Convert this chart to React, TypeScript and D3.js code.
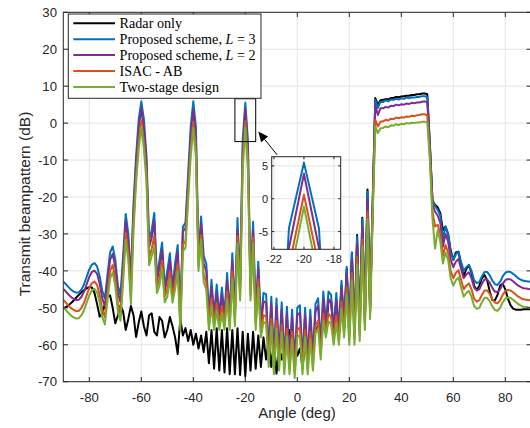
import React from "react";
import * as d3 from "d3";

// Sampling grid: -90..90 deg, 1 deg step
const angles: number[] = d3.range(-90, 91, 1);

const radarOnly: number[] = [
  -50.1, -49.8, -49.3, -48.7, -48.0, -47.2, -46.5, -45.8, -45.2, -44.7,
  -44.4, -44.5, -46.0, -49.0, -52.4, -51.5, -49.0, -47.0, -46.6, -50.0,
  -54.2, -52.0, -49.3, -51.0, -56.0, -53.0, -49.5, -52.0, -57.9, -54.0,
  -51.0, -55.0, -57.5, -52.0, -51.5, -56.5, -57.5, -52.5, -53.5, -58.0,
  -56.0, -52.5, -55.0, -58.0, -62.5, -53.0, -57.5, -55.5, -59.0, -56.0,
  -60.0, -57.0, -61.0, -57.5, -62.0, -56.5, -65.0, -56.0, -66.5, -55.5,
  -67.0, -56.0, -67.5, -55.5, -68.0, -56.0, -68.0, -55.5, -68.2, -56.5,
  -68.5, -57.0, -67.0, -56.5, -66.5, -57.5, -66.0, -58.0, -64.0, -58.5,
  -66.0, -59.0, -67.8, -61.0, -64.0, -60.0, -58.0, -56.0, -62.0, -59.0,
  -63.0, -61.0, -66.0, -60.0, -64.0, -58.0, -62.0, -56.0, -55.0, -58.0,
  -51.0, -57.0, -48.0, -48.5, -56.0, -48.0, -57.0, -44.0, -56.0, -39.5,
  -57.0, -35.0, -57.0, -30.3, -56.0, -25.6, -54.0, -18.0, -51.0, -21.0,
  6.8, 5.0, 6.2, 6.3, 6.5, 6.4, 6.8, 6.8, 7.1, 7.0,
  7.2, 7.3, 7.4, 7.4, 7.6, 7.6, 7.8, 7.8, 8.0, 8.0,
  7.8, -6.0, -21.0, -22.2, -22.8, -24.4, -29.0, -28.0, -30.0, -34.5,
  -37.0, -35.0, -34.8, -38.5, -41.6, -39.5, -38.4, -40.5, -44.0, -45.2,
  -44.0, -42.0, -41.1, -42.5, -45.5, -47.9, -48.0, -46.5, -44.0, -43.5,
  -45.0, -47.5, -49.3, -50.2, -50.5, -50.5, -50.5, -50.4, -50.4, -50.4,
  -50.4,
];

const proposedL3: number[] = [
  -42.9, -43.6, -44.4, -45.1, -45.6, -45.9, -45.8, -45.0, -43.6, -41.6,
  -39.6, -38.3, -37.9, -38.8, -41.5, -45.5, -47.5, -41.0, -35.0, -33.4,
  -37.0, -44.0, -46.5, -36.0, -24.6, -30.0, -42.0, -22.0, -9.0, 1.0,
  5.9, 1.0, -9.0, -31.5, -29.0, -24.3, -42.0, -37.0, -32.3, -44.5,
  -40.0, -35.2, -44.6, -38.0, -33.0, -52.0, -28.0, -27.0, -14.0, -1.0,
  5.9, -1.0, -36.0, -25.3, -36.0, -38.0, -52.0, -42.4, -52.0, -43.7,
  -52.0, -44.5, -52.0, -40.6, -52.0, -35.2, -51.0, -25.7, -44.0, -4.5,
  5.5, -4.5, -44.0, -26.7, -52.0, -37.5, -54.0, -46.0, -46.3, -62.0,
  -47.0, -64.0, -47.5, -63.0, -48.5, -64.0, -49.7, -64.0, -50.5, -65.0,
  -50.0, -49.3, -64.0, -50.0, -64.0, -50.5, -63.0, -49.0, -47.4, -60.0,
  -45.6, -54.0, -45.6, -46.5, -56.0, -46.0, -56.0, -42.7, -54.0, -38.9,
  -56.0, -35.1, -56.0, -30.7, -55.0, -26.0, -52.0, -18.5, -49.0, -22.0,
  6.3, 4.1, 5.8, 5.7, 6.2, 5.9, 6.4, 6.3, 6.6, 6.4,
  6.7, 6.6, 6.9, 6.7, 7.0, 6.9, 7.1, 7.1, 7.3, 7.3,
  7.0, -6.0, -21.0, -22.5, -23.5, -25.0, -31.5, -28.0, -30.0, -35.0,
  -37.0, -35.5, -34.8, -37.5, -40.0, -39.0, -38.4, -40.0, -42.5, -43.3,
  -43.0, -41.5, -40.3, -40.3, -41.2, -42.6, -43.6, -43.8, -43.0, -41.5,
  -40.5, -40.2, -40.3, -40.8, -41.4, -42.0, -42.4, -42.7, -42.8, -42.9,
  -43.0,
];

const proposedL2: number[] = [
  -44.9, -45.6, -46.4, -47.1, -47.6, -47.9, -47.8, -47.0, -45.6, -43.6,
  -41.6, -40.3, -39.9, -40.8, -43.5, -47.5, -49.5, -43.0, -37.0, -35.4,
  -39.0, -46.0, -48.5, -38.0, -26.6, -32.0, -44.0, -24.0, -11.0, -1.5,
  4.0, -1.5, -11.0, -33.5, -31.0, -26.5, -43.0, -39.0, -34.3, -45.5,
  -42.0, -37.2, -45.6, -40.0, -35.0, -53.0, -29.4, -28.4, -16.0, -4.0,
  3.6, -4.0, -37.0, -27.3, -38.0, -40.0, -53.0, -44.4, -53.0, -45.7,
  -53.0, -46.5, -53.0, -42.6, -53.0, -37.2, -52.0, -28.9, -45.0, -7.5,
  3.8, -7.5, -45.0, -29.0, -53.0, -39.5, -55.0, -48.3, -48.5, -63.0,
  -49.0, -65.0, -49.5, -64.0, -50.5, -65.0, -51.7, -65.0, -52.5, -66.0,
  -52.0, -51.3, -65.0, -52.0, -65.0, -52.5, -64.0, -51.0, -49.4, -61.0,
  -47.6, -55.0, -47.6, -48.5, -57.0, -48.0, -57.0, -44.7, -55.0, -40.9,
  -57.0, -37.1, -57.0, -32.7, -56.0, -28.0, -53.0, -20.5, -50.0, -23.0,
  5.0, 2.2, 4.0, 4.0, 4.4, 4.2, 4.7, 4.6, 5.0, 4.8,
  5.1, 5.0, 5.3, 5.2, 5.5, 5.4, 5.6, 5.6, 5.8, 5.9,
  5.6, -7.0, -22.0, -24.0, -25.0, -27.0, -33.5, -30.0, -32.0, -37.0,
  -39.0, -37.5, -36.8, -39.5, -42.0, -41.0, -40.4, -42.0, -44.5, -45.3,
  -45.0, -43.5, -42.3, -42.3, -43.2, -44.6, -45.6, -45.8, -45.0, -43.5,
  -42.5, -42.2, -42.3, -42.8, -43.4, -44.0, -44.4, -44.7, -44.8, -44.9,
  -45.0,
];

const isacAB: number[] = [
  -47.9, -48.6, -49.4, -50.1, -50.6, -50.9, -50.8, -50.0, -48.6, -46.6,
  -44.6, -43.3, -42.9, -43.8, -46.5, -50.5, -52.5, -46.0, -40.0, -38.4,
  -42.0, -49.0, -51.5, -41.0, -29.6, -35.0, -47.0, -27.0, -14.0, -5.0,
  0.7, -5.0, -14.0, -36.5, -34.0, -30.5, -44.5, -42.0, -37.3, -47.0,
  -45.0, -40.2, -47.1, -43.0, -38.0, -54.5, -32.9, -31.9, -19.0, -7.0,
  0.4, -7.0, -38.5, -30.3, -41.0, -43.0, -54.5, -47.4, -54.5, -48.7,
  -54.5, -49.5, -54.5, -45.6, -54.5, -40.2, -53.5, -30.7, -46.5, -10.3,
  0.6, -10.3, -46.5, -31.0, -54.5, -42.5, -56.5, -52.0, -52.3, -64.5,
  -53.0, -66.5, -53.5, -65.5, -54.5, -66.5, -55.7, -66.5, -56.5, -67.5,
  -56.0, -55.3, -66.5, -56.0, -66.5, -56.5, -65.5, -55.0, -53.4, -62.5,
  -51.6, -56.5, -51.6, -52.5, -58.5, -52.0, -58.5, -48.2, -56.5, -44.4,
  -58.5, -40.6, -58.5, -36.2, -57.5, -31.5, -54.5, -24.0, -51.5, -24.0,
  0.9, -0.9, 0.4, 0.5, 0.9, 0.7, 1.2, 1.1, 1.5, 1.3,
  1.6, 1.5, 1.8, 1.7, 2.0, 1.9, 2.1, 2.2, 2.4, 2.4,
  2.1, -9.0, -24.0, -28.0, -27.5, -30.0, -36.0, -33.0, -35.0, -40.0,
  -42.0, -40.5, -39.8, -42.5, -45.0, -44.0, -43.4, -45.0, -47.5, -48.3,
  -48.0, -46.5, -45.3, -45.3, -46.2, -47.6, -48.6, -48.8, -48.0, -46.5,
  -45.5, -45.2, -45.3, -45.8, -46.4, -47.0, -47.4, -47.7, -47.8, -47.9,
  -48.0,
];

const twoStage: number[] = [
  -49.9, -50.6, -51.4, -52.1, -52.6, -52.9, -52.8, -52.0, -50.6, -48.6,
  -46.6, -45.3, -44.9, -45.8, -48.5, -52.5, -54.5, -48.0, -42.0, -40.4,
  -44.0, -51.0, -53.5, -43.0, -31.6, -37.0, -49.0, -29.0, -16.0, -7.0,
  -0.9, -7.0, -16.0, -38.5, -36.0, -33.4, -46.0, -44.0, -39.3, -48.5,
  -47.0, -42.2, -48.6, -45.0, -40.0, -56.0, -34.7, -33.7, -21.0, -9.0,
  -1.4, -9.0, -40.0, -31.5, -43.0, -45.0, -56.0, -49.4, -56.0, -50.7,
  -56.0, -51.5, -56.0, -47.6, -56.0, -42.2, -55.0, -32.5, -48.0, -12.6,
  -1.2, -12.6, -48.0, -32.5, -56.0, -44.5, -58.0, -53.8, -54.3, -66.0,
  -55.0, -68.0, -55.5, -67.0, -56.5, -68.0, -57.7, -68.0, -58.5, -69.0,
  -58.0, -57.3, -68.0, -58.0, -68.0, -58.5, -67.0, -57.0, -55.4, -64.0,
  -53.6, -58.0, -53.6, -54.5, -60.0, -54.0, -60.0, -50.2, -58.0, -46.4,
  -60.0, -42.6, -60.0, -38.2, -59.0, -33.5, -56.0, -26.0, -53.0, -25.0,
  -0.9, -2.7, -1.4, -1.3, -0.9, -1.1, -0.6, -0.7, -0.3, -0.5,
  -0.2, -0.3, 0.0, -0.1, 0.1, 0.0, 0.2, 0.2, 0.4, 0.4,
  0.2, -10.0, -26.0, -34.0, -29.0, -32.0, -38.0, -35.0, -37.0, -42.0,
  -44.0, -42.5, -41.8, -44.5, -47.0, -46.0, -45.4, -47.0, -49.5, -50.3,
  -50.0, -48.5, -47.3, -47.3, -48.2, -49.6, -50.6, -50.8, -50.0, -48.5,
  -47.5, -47.2, -47.3, -47.8, -48.4, -49.0, -49.4, -49.7, -49.8, -49.9,
  -50.0,
];

const seriesNames: string[] = [
  "Radar only",
  "Proposed scheme, L = 3",
  "Proposed scheme, L = 2",
  "ISAC - AB",
  "Two-stage design",
];
const seriesColors: string[] = ["#000000", "#0072BD", "#7E2F8E", "#D95319", "#77AC30"];
const seriesData: number[][] = [radarOnly, proposedL3, proposedL2, isacAB, twoStage];

const xTicks: number[] = [-80, -60, -40, -20, 0, 20, 40, 60, 80];
const yTicks: number[] = [-70, -60, -50, -40, -30, -20, -10, 0, 10, 20, 30];
const insetXTicks: number[] = [-22, -20, -18];
const insetYTicks: number[] = [-5, 0, 5];

const W = 530;
const H = 428;
const SANS = "'Liberation Sans', Arial, Helvetica, sans-serif";
const SERIF = "'Liberation Serif', 'Times New Roman', serif";
const AX = "#262626";
const GRID = "#e3e3e3";

export default function App() {
  const x = d3.scaleLinear().domain([-90, 90]).range([63.3, 531.3]);
  const y = d3.scaleLinear().domain([-70, 30]).range([381.7, 12.3]);
  const [x0, x1] = x.range();
  const [y0, y1] = y.range();

  const xi = d3.scaleLinear().domain([-22.15, -17.55]).range([271.7, 340.7]);
  const yi = d3.scaleLinear().domain([-7.7, 6.4]).range([249.3, 156.7]);

  const mainLine = d3
    .line<number>()
    .x((_, i) => x(angles[i]))
    .y((d) => y(d));
  const insetLine = d3
    .line<number>()
    .x((_, i) => xi(angles[i]))
    .y((d) => yi(d));

  const tick = 4.7;
  const itick = 2.5;

  // zoom rectangle in data space
  const zx0 = x(-24), zx1 = x(-16), zy0 = y(6.6), zy1 = y(-5);

  // arrow from inset corner towards the zoom box
  const tail = [xi.range()[0] + 5.6, yi.range()[1] - 1.7];
  const tip = [zx1 + 2.6, zy1 - 10];
  const dx = tip[0] - tail[0], dy = tip[1] - tail[1];
  const len = Math.hypot(dx, dy);
  const ux = dx / len, uy = dy / len;
  const hl = 10, hw = 4.5;
  const bx = tip[0] - ux * hl, by = tip[1] - uy * hl;
  const head = `${tip[0]},${tip[1]} ${bx - uy * hw},${by + ux * hw} ${bx + uy * hw},${by - ux * hw}`;

  const legendX0 = 68.3, legendY0 = 14, legendW = 192.7, legendH = 84.3;
  const rowY = [23.3, 39.3, 55.1, 70.9, 87.0];

  return (
    <svg
      width={W}
      height={H}
      style={{ position: "absolute", left: 0, top: 0, background: "#fff" }}
      fontFamily={SANS}
    >
      <defs>
        <clipPath id="plotClip">
          <rect x={x0} y={y1} width={x1 - x0} height={y0 - y1} />
        </clipPath>
        <clipPath id="insetClip">
          <rect x={xi.range()[0]} y={yi.range()[1]} width={xi.range()[1] - xi.range()[0]} height={yi.range()[0] - yi.range()[1]} />
        </clipPath>
      </defs>
      <rect x={0} y={0} width={W} height={H} fill="#fff" />

      {/* grid */}
      <g stroke={GRID} strokeWidth={1}>
        {xTicks.map((t) => (
          <line key={"gx" + t} x1={x(t)} x2={x(t)} y1={y1} y2={y0} />
        ))}
        {yTicks.map((t) => (
          <line key={"gy" + t} x1={x0} x2={x1} y1={y(t)} y2={y(t)} />
        ))}
      </g>

      {/* curves */}
      <g clipPath="url(#plotClip)" fill="none" strokeWidth={2} strokeLinejoin="round">
        {seriesData.map((s, k) => (
          <path key={"s" + k} d={mainLine(s) || ""} stroke={seriesColors[k]} />
        ))}
      </g>

      {/* axes box and ticks */}
      <g stroke={AX} strokeWidth={1} fill="none">
        <rect x={x0} y={y1} width={x1 - x0} height={y0 - y1} />
        {xTicks.map((t) => (
          <g key={"tx" + t}>
            <line x1={x(t)} x2={x(t)} y1={y0} y2={y0 - tick} />
            <line x1={x(t)} x2={x(t)} y1={y1} y2={y1 + tick} />
          </g>
        ))}
        {yTicks.map((t) => (
          <g key={"ty" + t}>
            <line x1={x0} x2={x0 + tick} y1={y(t)} y2={y(t)} />
            <line x1={x1} x2={x1 - tick} y1={y(t)} y2={y(t)} />
          </g>
        ))}
      </g>
      <g fill={AX} fontSize={13.2}>
        {xTicks.map((t) => (
          <text key={"lx" + t} x={x(t)} y={401.8} textAnchor="middle">
            {String(t)}
          </text>
        ))}
        {yTicks.map((t) => (
          <text key={"ly" + t} x={57} y={y(t)} dy="0.36em" textAnchor="end">
            {String(t)}
          </text>
        ))}
      </g>
      <text x={297} y={418.2} textAnchor="middle" fontSize={15} fill={AX}>
        Angle (deg)
      </text>
      <text
        transform={`translate(29.5, 204) rotate(-90)`}
        textAnchor="middle"
        fontSize={15.5}
        fill={AX}
      >
        Transmit beampattern (dB)
      </text>

      {/* zoom box and arrow */}
      <rect x={zx0} y={zy0} width={zx1 - zx0} height={zy1 - zy0} fill="none" stroke="#000" strokeWidth={1} />
      <line x1={tail[0]} y1={tail[1]} x2={bx} y2={by} stroke="#000" strokeWidth={1} />
      <polygon points={head} fill="#000" />

      {/* inset */}
      <rect x={xi.range()[0]} y={yi.range()[1]} width={xi.range()[1] - xi.range()[0]} height={yi.range()[0] - yi.range()[1]} fill="#fff" />
      <g stroke={GRID} strokeWidth={1}>
        {insetXTicks.map((t) => (
          <line key={"igx" + t} x1={xi(t)} x2={xi(t)} y1={yi.range()[1]} y2={yi.range()[0]} />
        ))}
        {insetYTicks.map((t) => (
          <line key={"igy" + t} x1={xi.range()[0]} x2={xi.range()[1]} y1={yi(t)} y2={yi(t)} />
        ))}
      </g>
      <g clipPath="url(#insetClip)" fill="none" strokeWidth={2} strokeLinejoin="round">
        {seriesData.map((s, k) => (
          <path key={"is" + k} d={insetLine(s) || ""} stroke={seriesColors[k]} />
        ))}
      </g>
      <g stroke={AX} strokeWidth={1} fill="none">
        <rect x={xi.range()[0]} y={yi.range()[1]} width={xi.range()[1] - xi.range()[0]} height={yi.range()[0] - yi.range()[1]} />
        {insetXTicks.map((t) => (
          <g key={"itx" + t}>
            <line x1={xi(t)} x2={xi(t)} y1={yi.range()[0]} y2={yi.range()[0] - itick} />
            <line x1={xi(t)} x2={xi(t)} y1={yi.range()[1]} y2={yi.range()[1] + itick} />
          </g>
        ))}
        {insetYTicks.map((t) => (
          <g key={"ity" + t}>
            <line x1={xi.range()[0]} x2={xi.range()[0] + itick} y1={yi(t)} y2={yi(t)} />
            <line x1={xi.range()[1]} x2={xi.range()[1] - itick} y1={yi(t)} y2={yi(t)} />
          </g>
        ))}
      </g>
      <g fill={AX} fontSize={11}>
        {insetXTicks.map((t) => (
          <text key={"ilx" + t} x={xi(t)} y={yi.range()[0] + 14} textAnchor="middle">
            {String(t)}
          </text>
        ))}
        {insetYTicks.map((t) => (
          <text key={"ily" + t} x={xi.range()[0] - 3.5} y={yi(t)} dy="0.36em" textAnchor="end">
            {String(t)}
          </text>
        ))}
      </g>

      {/* legend */}
      <rect x={legendX0} y={legendY0} width={legendW} height={legendH} fill="#fff" stroke={AX} strokeWidth={1} />
      {seriesNames.map((name, k) => {
        const ry = rowY[k];
        const m = name.match(/^(.*), L = (\d)$/);
        return (
          <g key={"lg" + k}>
            <line x1={73.3} x2={115} y1={ry} y2={ry} stroke={seriesColors[k]} strokeWidth={2} />
            <text x={119.5} y={ry + 4.8} fontFamily={SERIF} fontSize={14.2} fill="#000">
              {m ? (
                <>
                  {m[1] + ", "}
                  <tspan fontStyle="italic">L</tspan>
                  {" = " + m[2]}
                </>
              ) : (
                name
              )}
            </text>
          </g>
        );
      })}
    </svg>
  );
}
